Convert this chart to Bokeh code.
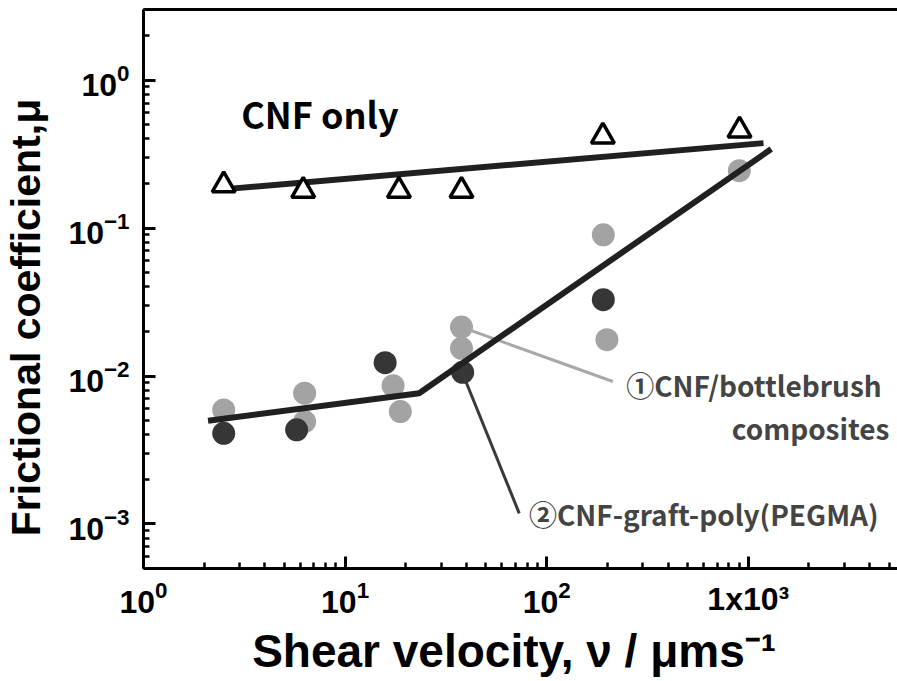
import math
from bokeh.plotting import figure
from bokeh.models import Range1d, FixedTicker, LogAxis, Label, LogTickFormatter
from bokeh.embed import file_html
from bokeh.resources import INLINE

# ---------------- data ----------------
# CNF only (open triangles)
cnf_only_x = [2.5, 6.2, 18.5, 37.8, 190, 905]
cnf_only_y = [0.195, 0.179, 0.179, 0.179, 0.416, 0.457]

# (1) CNF/bottlebrush composites (light grey circles)
brush_x = [2.5, 6.3, 6.3, 17.3, 18.8, 37.8, 37.8, 191, 199, 903]
brush_y = [5.9e-3, 7.65e-3, 4.92e-3, 8.6e-3, 5.75e-3, 2.14e-2, 1.54e-2, 9.0e-2, 1.76e-2, 0.244]

# (2) CNF-graft-poly(PEGMA) (dark circles)
graft_x = [2.5, 5.75, 15.8, 38.3, 191]
graft_y = [4.1e-3, 4.33e-3, 1.23e-2, 1.06e-2, 3.28e-2]

# guide lines drawn in the figure
fit_cnf_x = [2.64, 1190]
fit_cnf_y = [0.184, 0.375]
fit_comp_x = [2.09, 23.3, 1300]
fit_comp_y = [4.98e-3, 7.65e-3, 0.342]

# leader lines from points to the labels
lead_brush_x = [41.3, 213]
lead_brush_y = [2.05e-2, 9.18e-3]
lead_graft_x = [38.3, 73.1]
lead_graft_y = [1.04e-2, 1.18e-3]

# ticks
x_ticks = [1, 10, 100, 1000]
x_label_overrides = {1000: "1x10\u00b3"}
y_ticks = [0.001, 0.01, 0.1, 1]
x_minor = [m * 10 ** e for e in range(0, 4) for m in range(2, 10) if m * 10 ** e <= 5500]
y_minor = [m * 10.0 ** e for e in range(-4, 1) for m in range(2, 10) if 5e-4 <= m * 10.0 ** e <= 3]

x_title = "Shear velocity, \u03bd  / \u03bcms\u207b\u00b9"
y_title = "Frictional coefficient,\u03bc" + "\u00a0" * 5

# ---------------- figure ----------------
p = figure(width=897, height=681, x_axis_type="log", y_axis_type="log",
           x_range=Range1d(1, 5500), y_range=Range1d(5e-4, 3),
           output_backend="svg", toolbar_location=None,
           min_border_left=143, min_border_right=0,
           min_border_top=9, min_border_bottom=113)
p.outline_line_color = None
p.grid.visible = False
p.background_fill_color = "white"
p.border_fill_color = "white"

for ax in (p.xaxis[0], p.yaxis[0]):
    ax.axis_line_width = 3
    ax.axis_line_color = "black"
    ax.major_tick_in = 12
    ax.major_tick_out = 0
    ax.minor_tick_in = 6
    ax.minor_tick_out = 0
    ax.major_tick_line_width = 3
    ax.minor_tick_line_width = 2.5
    ax.major_label_text_font = "Liberation Sans Narrow, Liberation Sans"
    ax.major_label_text_font_style = "bold"
    ax.major_label_text_font_size = "32px"
    ax.major_label_text_color = "black"
    ax.axis_label_text_font = "Liberation Sans"
    ax.axis_label_text_font_style = "bold"
    ax.axis_label_text_color = "black"

p.xaxis.major_label_standoff = 12
p.yaxis.major_label_standoff = 14

p.xaxis.ticker = FixedTicker(ticks=x_ticks, minor_ticks=x_minor)
p.yaxis.ticker = FixedTicker(ticks=y_ticks, minor_ticks=y_minor)
p.xaxis.formatter = LogTickFormatter()
p.yaxis.formatter = LogTickFormatter()
p.xaxis.major_label_overrides = x_label_overrides

p.xaxis.axis_label = x_title
p.xaxis.axis_label_text_font_size = "46px"
p.xaxis.axis_label_standoff = 5
p.yaxis.axis_label = y_title
p.yaxis.axis_label_text_font_size = "41px"
p.yaxis.axis_label_standoff = 16

top = LogAxis(ticker=FixedTicker(ticks=[]), axis_line_width=3, axis_line_color="black",
              major_tick_in=0, major_tick_out=0, minor_tick_in=0, minor_tick_out=0,
              major_label_text_font_size="0px")
p.add_layout(top, "above")

# ---------------- marks ----------------
p.scatter(brush_x, brush_y, size=23, color="#a3a3a3", line_color=None)
p.scatter(graft_x, graft_y, size=23, color="#363636", line_color=None)
p.line(lead_brush_x, lead_brush_y, line_color="#a8a8a8", line_width=3)
p.line(lead_graft_x, lead_graft_y, line_color="#3a3a3a", line_width=3)
p.line(fit_cnf_x, fit_cnf_y, line_color="#202020", line_width=6)
p.line(fit_comp_x, fit_comp_y, line_color="#202020", line_width=6, line_join="round")
p.scatter(cnf_only_x, cnf_only_y, marker="triangle", size=23, fill_color="white",
          line_color="black", line_width=3.5)

# ---------------- texts ----------------
ann_font = "Noto Sans CJK JP"
p.add_layout(Label(x=3.05, y=0.595, text="CNF only", text_font=ann_font, text_font_style="bold",
                   text_font_size="36px", text_baseline="middle", text_color="black"))
p.add_layout(Label(x=248, y=8.75e-3, text="\u2460CNF/bottlebrush", text_font=ann_font,
                   text_font_style="bold", text_font_size="28px", text_baseline="middle"))
p.add_layout(Label(x=5012, y=4.44e-3, text="composites", text_font=ann_font,
                   text_font_style="bold", text_font_size="28px", text_baseline="middle",
                   text_align="right"))
p.add_layout(Label(x=81.7, y=1.16e-3, text="\u2461CNF-graft-poly(PEGMA)", text_font=ann_font,
                   text_font_style="bold", text_font_size="28px", text_baseline="middle"))

open("out.html", "w").write(file_html(p, INLINE))
